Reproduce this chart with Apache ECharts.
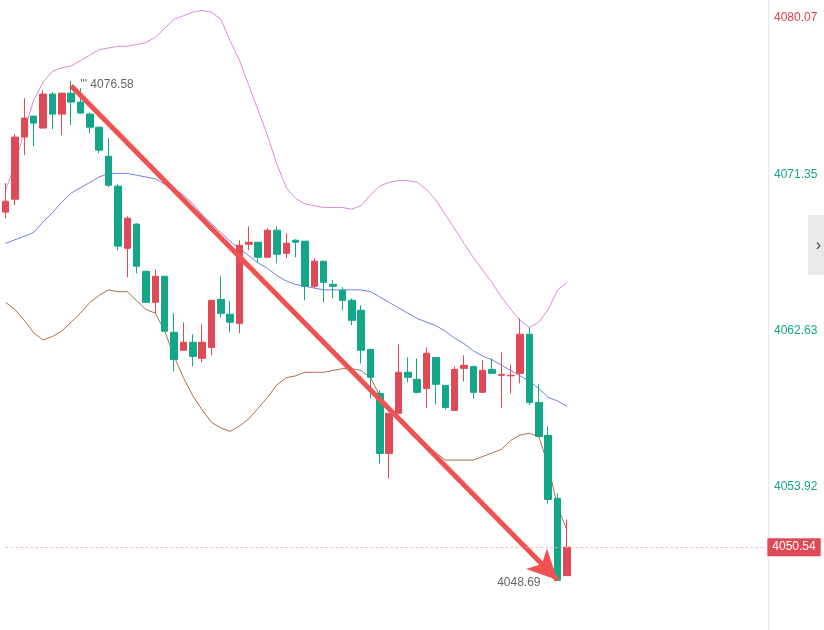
<!DOCTYPE html>
<html><head><meta charset="utf-8">
<script src="https://cdn.jsdelivr.net/npm/echarts@6/dist/echarts.min.js"></script>
<style>html,body{margin:0;padding:0;background:#fff;overflow:hidden}#c{width:824px;height:660px}</style>
</head><body><div id="c"></div>
<script>
// [open, close, low, high]
const candles = [
[4069.24,4069.85,4068.90,4070.86],[4069.96,4073.43,4069.63,4073.59],[4073.43,4074.49,4072.42,4075.60],
[4074.60,4074.21,4072.92,4074.60],[4073.93,4075.83,4073.93,4076.05],[4075.83,4074.71,4073.87,4075.94],
[4074.71,4075.88,4073.54,4075.88],[4075.88,4075.38,4074.10,4076.58],[4075.38,4074.77,4074.71,4076.16],
[4074.71,4073.98,4073.65,4074.82],[4073.98,4072.70,4072.53,4073.98],[4072.36,4070.74,4070.63,4073.37],
[4070.69,4067.34,4067.11,4070.80],[4067.22,4068.90,4065.60,4069.01],[4068.57,4066.22,4065.83,4068.62],
[4065.94,4064.21,4064.21,4065.94],[4064.21,4065.66,4063.59,4066.05],[4065.66,4062.59,4062.59,4065.66],
[4062.53,4061.02,4060.35,4063.59],[4061.53,4061.97,4061.53,4063.09],[4061.97,4061.19,4060.63,4062.42],
[4061.08,4061.97,4060.86,4062.98],[4061.69,4064.32,4061.25,4064.32],[4064.37,4063.59,4063.37,4065.66],
[4063.54,4063.09,4062.53,4064.26],[4063.03,4067.39,4062.48,4067.67],[4067.45,4067.56,4067.11,4068.45],
[4067.56,4066.72,4066.44,4067.56],[4066.72,4068.23,4066.67,4068.34],[4068.23,4066.89,4066.39,4068.45],
[4066.94,4067.50,4066.67,4068.06],[4067.67,4067.56,4066.72,4067.73],[4067.62,4065.10,4064.32,4067.62],
[4065.10,4066.50,4064.99,4066.67],[4066.50,4065.32,4064.21,4066.50],[4065.21,4065.10,4064.43,4065.44],
[4064.88,4064.32,4063.76,4065.05],[4064.32,4063.20,4062.92,4064.43],[4063.76,4061.53,4060.80,4064.04],
[4061.58,4060.02,4058.84,4061.58],[4059.12,4055.77,4055.21,4059.29],[4055.77,4058.01,4054.37,4058.01],
[4058.01,4060.30,4058.01,4061.86],[4060.30,4060.02,4059.74,4061.13],[4059.91,4059.18,4059.12,4061.08],
[4059.40,4061.36,4058.29,4061.69],[4061.13,4059.63,4058.51,4061.13],[4059.57,4058.34,4058.23,4059.57],
[4058.17,4060.46,4058.17,4060.63],[4060.52,4060.69,4059.79,4061.25],[4060.63,4059.18,4058.84,4060.63],
[4059.18,4060.41,4059.18,4060.97],[4060.46,4060.24,4060.24,4061.08],[4060.13,4060.18,4058.29,4061.41],
[4060.10,4060.13,4059.12,4060.74],[4060.24,4062.42,4059.68,4063.31],[4062.42,4058.62,4058.45,4062.81],
[4058.62,4056.72,4056.72,4059.63],[4056.78,4053.20,4052.98,4057.28],[4053.26,4048.69,4048.69,4053.54],
[4048.95,4050.54,4048.95,4052.08]
];
const upper = [4070.5,4071.9,4073.8,4075.5,4076.5,4077.1,4077.3,4077.4,4077.7,4078.0,4078.3,4078.4,4078.5,4078.5,4078.6,4078.7,4079.0,4079.5,4080.0,4080.2,4080.4,4080.5,4080.4,4080.0,4078.8,4077.7,4076.3,4074.9,4073.5,4071.9,4070.6,4070.0,4069.7,4069.6,4069.5,4069.5,4069.5,4069.4,4069.6,4070.2,4070.7,4070.9,4071.0,4071.0,4070.9,4070.5,4069.9,4069.1,4068.3,4067.5,4066.7,4066.0,4065.3,4064.5,4063.8,4063.2,4062.8,4063.1,4063.8,4064.9,4065.3];
const middle = [4067.5,4067.7,4067.9,4068.1,4068.7,4069.2,4069.8,4070.3,4070.6,4070.9,4071.2,4071.4,4071.4,4071.4,4071.3,4071.2,4071.1,4070.8,4070.5,4070.2,4069.7,4069.1,4068.6,4068.1,4067.6,4067.2,4066.8,4066.4,4066.1,4065.7,4065.4,4065.2,4065.1,4065.0,4064.9,4064.9,4064.9,4064.9,4064.9,4064.8,4064.5,4064.2,4063.9,4063.6,4063.3,4063.1,4062.9,4062.6,4062.2,4061.9,4061.5,4061.2,4061.0,4060.7,4060.4,4060.1,4059.8,4059.4,4058.9,4058.7,4058.4];
const lower = [4064.2,4063.8,4063.2,4062.5,4062.1,4062.3,4062.6,4063.1,4063.6,4064.2,4064.6,4064.9,4064.8,4064.8,4064.3,4063.8,4063.6,4062.6,4061.2,4060.0,4059.0,4058.2,4057.5,4057.2,4057.0,4057.3,4057.7,4058.3,4058.9,4059.6,4060.0,4060.1,4060.3,4060.3,4060.3,4060.4,4060.5,4060.5,4060.4,4060.0,4059.0,4058.3,4057.7,4057.2,4056.7,4056.2,4055.8,4055.4,4055.4,4055.4,4055.4,4055.6,4055.8,4056.0,4056.5,4056.8,4056.9,4056.7,4055.1,4052.8,4051.5];
const tickLabels = ['4045.20','4053.92','4062.63','4071.35','4080.07'];
const lastPrice = 4050.54, highPrice = 4076.58, lowPrice = 4048.69;
const totalSlots = 82;
const cats = Array.from({length: totalSlots}, (_, i) => String(i));
const RED = '#e04a57', GREEN = '#13a689';
const chart = echarts.init(document.getElementById('c'));
chart.setOption({
  animation: false,
  grid: {left: 1, right: 56, top: 0, height: 643},
  xAxis: {type: 'category', data: cats, boundaryGap: true, show: false},
  yAxis: {type: 'value', position: 'right', min: 4045.19, max: 4081.08, interval: 8.72,
    splitLine: {show: false},
    axisLine: {show: true, lineStyle: {color: '#e6e6e6'}},
    axisTick: {show: false},
    axisLabel: {showMaxLabel: false, margin: 6, fontSize: 12, fontFamily: 'Arial, Liberation Sans',
      formatter: v => { let best = tickLabels[0]; tickLabels.forEach(t => { if (Math.abs(+t - v) < Math.abs(+best - v)) best = t; }); return best; },
      color: v => v > 4075 ? '#d9434f' : GREEN}
  },
  series: [
    {type: 'line', data: upper, showSymbol: false, lineStyle: {color: '#d98ad6', width: 1}, z: 1},
    {type: 'line', data: middle, showSymbol: false, lineStyle: {color: '#6f80e3', width: 1}, z: 1},
    {type: 'line', data: lower, showSymbol: false, lineStyle: {color: '#a9704a', width: 1}, z: 1},
    {type: 'candlestick', data: candles, barWidth: 7, z: 3,
      itemStyle: {color: RED, color0: GREEN, borderColor: RED, borderColor0: GREEN, borderWidth: 1},
      markPoint: {symbol: 'circle', symbolSize: 0, silent: true, data: [
        {coord: ['7', highPrice], label: {show: true, position: 'right', offset: [4, 4], formatter: "''' " + highPrice.toFixed(2), color: '#666', fontSize: 12, fontFamily: 'Arial, Liberation Sans'}},
        {coord: ['59', lowPrice], label: {show: true, position: 'left', offset: [-12, 2], formatter: lowPrice.toFixed(2), color: '#666', fontSize: 12, fontFamily: 'Arial, Liberation Sans'}}
      ]},
      markLine: {silent: true, animation: false, data: [
        [{coord: ['7', 4076.3], symbol: 'none'}, {coord: ['59', 4048.7], symbol: 'arrow', symbolSize: [22, 30]}],
        [{coord: ['0', lastPrice], symbol: 'none', lineStyle: {color: '#f2a9b1', type: [2, 3], width: 1}, label: {show: true, position: 'end', formatter: lastPrice.toFixed(2), backgroundColor: RED, color: '#fff', padding: [3, 5], fontSize: 12, fontFamily: 'Arial, Liberation Sans', distance: 4}},
         {coord: [String(totalSlots - 1), lastPrice], symbol: 'none'}]
      ], lineStyle: {color: '#f05252', width: 5, type: 'solid'}, label: {show: false}}
    }
  ],
  graphic: [
    {type: 'rect', right: 0, top: 215, shape: {width: 16, height: 60, r: 2}, style: {fill: '#e9e9ec'}},
    {type: 'text', right: 3, top: 238, style: {text: '›', fontSize: 16, fill: '#444'}}
  ]
});
</script></body></html>
